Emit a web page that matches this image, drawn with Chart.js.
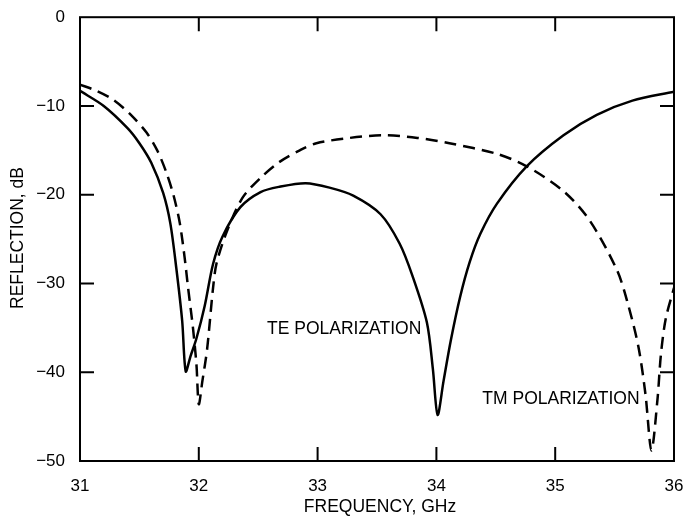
<!DOCTYPE html>
<html>
<head>
<meta charset="utf-8">
<script src="https://cdn.jsdelivr.net/npm/chart.js@4.4.0/dist/chart.umd.min.js"></script>
<style>
  html, body { margin: 0; padding: 0; background: #fff; }
  #wrap { width: 692px; height: 521px; position: relative; }
</style>
</head>
<body>
<div id="wrap"><canvas id="reflChart"></canvas></div>
<script>
// ---- data ----
const teFreq = [31.00, 31.20, 31.40, 31.50, 31.60, 31.70, 31.76, 31.81, 31.86, 31.89, 31.93, 31.98, 32.05, 32.12, 32.20, 32.35, 32.52, 32.68, 32.90, 33.10, 33.30, 33.53, 33.69, 33.80, 33.92, 33.97, 34.01, 34.06, 34.12, 34.20, 34.28, 34.37, 34.51, 34.76, 35.07, 35.35, 35.65, 36.00];
const teDb   = [-8.3, -10.0, -12.5, -14.2, -16.4, -19.8, -23.2, -28.2, -34.2, -39.9, -38.2, -36.2, -32.5, -27.8, -24.7, -21.4, -19.7, -19.1, -18.7, -19.2, -20.1, -22.2, -25.5, -29.2, -34.4, -39.6, -44.8, -41.0, -36.5, -31.5, -27.6, -24.4, -21.0, -16.8, -13.3, -11.0, -9.4, -8.4];

const tmFreq = [31.00, 31.14, 31.28, 31.42, 31.56, 31.65, 31.73, 31.79, 31.84, 31.88, 31.91, 31.95, 31.98, 32.00, 32.03, 32.07, 32.12, 32.15, 32.24, 32.37, 32.52, 32.68, 32.85, 32.99, 33.27, 33.55, 33.84, 34.11, 34.51, 34.76, 35.07, 35.29, 35.52, 35.61, 35.70, 35.76, 35.81, 35.86, 35.89, 35.93, 36.00];
const tmDb   = [-7.6, -8.3, -9.3, -10.9, -13.0, -15.0, -17.6, -20.2, -23.2, -27.0, -30.5, -34.9, -39.1, -43.6, -41.0, -37.4, -30.5, -27.7, -24.0, -20.3, -18.1, -16.3, -15.0, -14.2, -13.6, -13.3, -13.6, -14.2, -15.4, -16.8, -19.6, -22.9, -28.5, -32.2, -37.1, -42.5, -48.8, -43.2, -38.0, -34.0, -30.5];

const xTicks = [31, 32, 33, 34, 35, 36];
const yTicks = [0, -10, -20, -30, -40, -50];

const FONT = "'Liberation Sans', Arial, Helvetica, sans-serif";

const toPoints = (xs, ys) => xs.map((x, i) => ({ x: x, y: ys[i] }));

// box, inward ticks, axis titles and curve labels
const framePlugin = {
  id: 'frame',
  afterDraw(chart) {
    const { ctx, chartArea: a, scales: { x, y } } = chart;
    const tl = 14;
    ctx.save();
    ctx.strokeStyle = '#000';
    ctx.lineWidth = 2;
    ctx.strokeRect(a.left, a.top, a.right - a.left, a.bottom - a.top);

    ctx.beginPath();
    xTicks.slice(1, -1).forEach(v => {
      const px = x.getPixelForValue(v);
      ctx.moveTo(px, a.bottom); ctx.lineTo(px, a.bottom - tl);
      ctx.moveTo(px, a.top); ctx.lineTo(px, a.top + tl);
    });
    yTicks.slice(1, -1).forEach(v => {
      const py = y.getPixelForValue(v);
      ctx.moveTo(a.left, py); ctx.lineTo(a.left + tl, py);
      ctx.moveTo(a.right, py); ctx.lineTo(a.right - tl, py);
    });
    ctx.stroke();

    ctx.fillStyle = '#000';
    ctx.font = '17.5px ' + FONT;
    ctx.textBaseline = 'middle';

    ctx.textAlign = 'center';
    ctx.fillText('FREQUENCY, GHz', 380, 507);

    ctx.save();
    ctx.translate(18, 238);
    ctx.rotate(-Math.PI / 2);
    ctx.fillText('REFLECTION, dB', 0, 0);
    ctx.restore();

    ctx.textAlign = 'left';
    ctx.fillText('TE POLARIZATION', x.getPixelForValue(32.574), y.getPixelForValue(-35.1));
    ctx.textAlign = 'right';
    ctx.fillText('TM POLARIZATION', x.getPixelForValue(35.71), y.getPixelForValue(-43.0));
    ctx.restore();
  }
};

new Chart(document.getElementById('reflChart'), {
  type: 'scatter',
  data: {
    datasets: [
      {
        label: 'TE POLARIZATION',
        data: toPoints(teFreq, teDb),
        showLine: true,
        borderColor: '#000',
        borderWidth: 2.5,
        pointRadius: 0,
        tension: 0.3
      },
      {
        label: 'TM POLARIZATION',
        data: toPoints(tmFreq, tmDb),
        showLine: true,
        borderColor: '#000',
        borderWidth: 2.5,
        borderDash: [12, 7],
        pointRadius: 0,
        tension: 0.3
      }
    ]
  },
  options: {
    responsive: true,
    maintainAspectRatio: false,
    animation: false,
    layout: { padding: { top: 10, right: 18, left: 0, bottom: 0 } },
    plugins: { legend: { display: false }, tooltip: { enabled: false } },
    scales: {
      x: {
        type: 'linear',
        min: 31, max: 36,
        afterFit: s => { s.height = 60; },
        afterBuildTicks: s => { s.ticks = xTicks.map(v => ({ value: v })); },
        grid: { display: false },
        border: { display: false },
        ticks: { color: '#000', padding: 7, font: { family: FONT, size: 17 } }
      },
      y: {
        type: 'linear',
        min: -50, max: 0,
        afterFit: s => { s.width = 80; },
        afterBuildTicks: s => { s.ticks = yTicks.map(v => ({ value: v })); },
        grid: { display: false },
        border: { display: false },
        ticks: {
          color: '#000', padding: 7, font: { family: FONT, size: 17 },
          callback: v => String(v).replace('-', '\u2212')
        }
      }
    }
  },
  plugins: [framePlugin]
});
</script>
</body>
</html>
